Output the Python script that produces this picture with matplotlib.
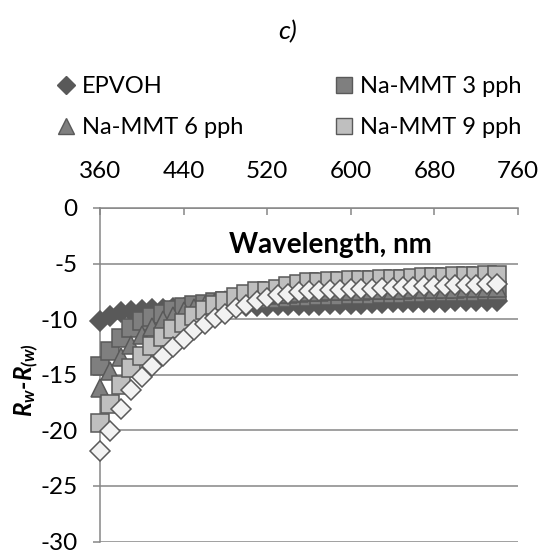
import matplotlib
matplotlib.use("Agg")
import matplotlib.pyplot as plt
from matplotlib.lines import Line2D
import numpy as np

plt.rcParams['font.family'] = ['Lato', 'DejaVu Sans']
plt.rcParams['axes.unicode_minus'] = False
plt.rcParams['mathtext.fontset'] = 'custom'
plt.rcParams['mathtext.it'] = 'Lato:italic:bold'
plt.rcParams['mathtext.rm'] = 'Lato:italic:bold'
plt.rcParams['mathtext.bf'] = 'Lato:italic:bold'

wavelength = list(range(360, 741, 10))

epvoh = [-10.2, -9.7, -9.4, -9.25, -9.15, -9.1, -9.05, -9.0, -9.0, -8.95,
         -8.95, -8.9, -8.9, -8.85, -8.8, -8.8, -8.8, -8.75, -8.75, -8.7,
         -8.7, -8.7, -8.65, -8.65, -8.6, -8.6, -8.55, -8.55, -8.5, -8.5,
         -8.5, -8.45, -8.45, -8.45, -8.4, -8.4, -8.4, -8.4, -8.35]
mmt3 = [-14.2, -12.9, -11.7, -10.8, -10.2, -9.8, -9.5, -9.2, -8.95, -8.75,
        -8.6, -8.5, -8.4, -8.35, -8.3, -8.25, -8.2, -8.15, -8.1, -8.05,
        -8.0, -7.95, -7.9, -7.9, -7.85, -7.8, -7.8, -7.75, -7.7, -7.7,
        -7.65, -7.65, -7.6, -7.6, -7.6, -7.55, -7.55, -7.5, -7.5]
mmt6 = [-16.2, -14.7, -13.4, -12.3, -11.4, -10.7, -10.1, -9.7, -9.3, -9.0,
        -8.75, -8.5, -8.3, -8.15, -8.0, -7.9, -7.8, -7.75, -7.7, -7.65,
        -7.6, -7.55, -7.5, -7.5, -7.45, -7.45, -7.4, -7.4, -7.35, -7.35,
        -7.3, -7.3, -7.3, -7.25, -7.25, -7.2, -7.2, -7.2, -7.2]
mmt9 = [-19.3, -17.6, -15.9, -14.4, -13.3, -12.4, -11.6, -10.9, -10.3, -9.7,
        -9.2, -8.75, -8.35, -8.0, -7.75, -7.5, -7.5, -7.25, -7.05, -6.85,
        -6.7, -6.65, -6.6, -6.55, -6.5, -6.5, -6.45, -6.4, -6.4, -6.35,
        -6.3, -6.25, -6.25, -6.2, -6.15, -6.15, -6.1, -6.05, -6.05]
series5 = [-21.9, -20.1, -18.1, -16.4, -15.2, -14.2, -13.3, -12.5, -11.8, -11.0,
           -10.4, -9.9, -9.5, -9.0, -8.7, -8.35, -8.1, -7.85, -7.7, -7.6,
           -7.5, -7.45, -7.4, -7.35, -7.3, -7.3, -7.25, -7.2, -7.2, -7.15,
           -7.1, -7.05, -7.0, -7.0, -6.95, -6.9, -6.9, -6.85, -6.8]

labels = ['EPVOH', 'Na-MMT 3 pph', 'Na-MMT 6 pph', 'Na-MMT 9 pph']
x_ticks = [360, 440, 520, 600, 680, 760]
y_ticks = [0, -5, -10, -15, -20, -25, -30]

fig = plt.figure(figsize=(5.43, 5.54), dpi=100)
ax = fig.add_axes([100/543, 1-541.5/554, 418/543, 333.5/554])

edge = '#595959'
styles = [
    (epvoh, 'D', 10.0, '#595959', edge, labels[0]),
    (mmt3, 's', 13.0, '#7f7f7f', edge, labels[1]),
    (mmt6, '^', 13.0, '#7f7f7f', edge, labels[2]),
    (mmt9, 's', 13.0, '#bfbfbf', edge, labels[3]),
    (series5, 'D', 10.0, '#f2f2f2', edge, '_nolegend_'),
]
for i, (vals, mk, ms, fc, ec, lab) in enumerate(styles):
    ax.plot(wavelength, vals, linestyle='none', marker=mk, ms=ms,
            mfc=fc, mec=ec, mew=1.1, label=lab, zorder=3+i, clip_on=False)

ax.set_xlim(360, 760)
ax.set_ylim(-30, 0)
ax.set_xticks(x_ticks)
ax.set_yticks(y_ticks)
ax.xaxis.tick_top()
ax.tick_params(axis='x', direction='in', length=5, width=1.1, color='#868686',
               labelsize=17.5, pad=19)
ax.tick_params(axis='y', direction='out', length=5, width=1.1, color='#868686',
               labelsize=17.5, pad=11)
for s in ['right', 'bottom']:
    ax.spines[s].set_visible(False)
for s in ['left', 'top']:
    ax.spines[s].set_color('#868686')
    ax.spines[s].set_linewidth(1.1)
ax.yaxis.grid(True, color='#868686', linewidth=1.1)
ax.set_axisbelow(True)

ax.text(580, -3.3, 'Wavelength, nm', fontsize=20, fontweight='bold',
        ha='center', va='center')
fig.text(27/543, 1-380/554, r'$R_w$-$R_{(w)}$', rotation=90, fontsize=17.5,
         fontweight='bold', style='italic', ha='center', va='center')
fig.text(288/543, 1-32/554, 'c)', fontsize=19, style='italic',
         ha='center', va='center')

h = [Line2D([], [], linestyle='none', marker='D', ms=9, mfc='#595959', mec=edge),
     Line2D([], [], linestyle='none', marker='^', ms=12, mfc='#7f7f7f', mec=edge),
     Line2D([], [], linestyle='none', marker='s', ms=11, mfc='#7f7f7f', mec=edge),
     Line2D([], [], linestyle='none', marker='s', ms=11, mfc='#bfbfbf', mec=edge)]
fig.legend(h, [labels[0], labels[2], labels[1], labels[3]], ncol=2,
           frameon=False, fontsize=17, handlelength=0.8, handletextpad=0.3,
           columnspacing=3.85, labelspacing=0.85,
           loc='upper left', bbox_to_anchor=(35/543, 1-55/554))

fig.savefig('out.png', dpi=100)
